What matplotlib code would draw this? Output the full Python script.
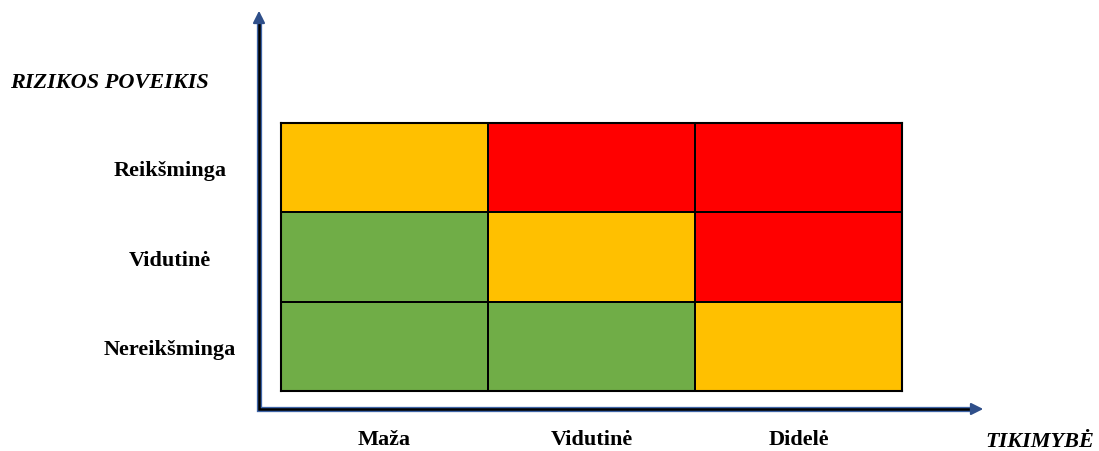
import matplotlib.pyplot as plt
from matplotlib.colors import ListedColormap
import numpy as np

# risk matrix data (rows bottom -> top)
likelihood = ["Maža", "Vidutinė", "Didelė"]
impact = ["Nereikšminga", "Vidutinė", "Reikšminga"]
levels = [
    [0, 0, 1],
    [0, 1, 2],
    [1, 2, 2],
]
level_colors = ["#70AD47", "#FFC000", "#FF0000"]

plt.rcParams['font.family'] = ['Liberation Serif', 'DejaVu Serif']

W, H = 1099, 452
fig = plt.figure(figsize=(W / 100, H / 100), dpi=100)

# grid area in pixels: left 281, right 902, top 124, bottom 392
ax = fig.add_axes([281 / W, (H - 392) / H, (902 - 281) / W, (392 - 124) / H])
ax.pcolormesh(np.array(levels), cmap=ListedColormap(level_colors), vmin=-0.5, vmax=2.5,
              edgecolors='black', linewidth=1.3)
ax.set_xlim(0, 3)
ax.set_ylim(0, 3)
for s in ax.spines.values():
    s.set_linewidth(1.5)
    s.set_color('black')

ax.set_xticks(np.arange(len(likelihood)) + 0.5, likelihood, fontsize=16, fontweight='bold')
ax.set_yticks(np.arange(len(impact)) + 0.5, impact, fontsize=16, fontweight='bold')
ax.tick_params(axis='x', length=0, pad=38.5)
ax.tick_params(axis='y', length=0, pad=80)
for lab in ax.get_xticklabels():
    lab.set_verticalalignment('baseline')
for lab in ax.get_yticklabels():
    lab.set_horizontalalignment('center')

# overlay for the axis arrows, in pixel coordinates (y downwards)
ov = fig.add_axes([0, 0, 1, 1], facecolor='none')
ov.set_xlim(0, W)
ov.set_ylim(H, 0)
ov.axis('off')

blue = '#3F65A8'
ov.plot([259, 259, 975], [18, 410, 410], color=blue, lw=3.8, solid_capstyle='butt',
        solid_joinstyle='miter')
ov.plot([259, 259, 975], [18, 410, 410], color='black', lw=1.8, solid_capstyle='butt',
        solid_joinstyle='miter')
ov.annotate('', xy=(259, 9), xytext=(259, 24),
            arrowprops=dict(arrowstyle='-|>', color='#2F4F8A', lw=1.5, mutation_scale=18))
ov.annotate('', xy=(986, 410), xytext=(970, 410),
            arrowprops=dict(arrowstyle='-|>', color='#2F4F8A', lw=1.5, mutation_scale=18))

fig.text(10 / W, (H - 88) / H, "RIZIKOS POVEIKIS", fontsize=16, fontweight='bold',
         fontstyle='italic', ha='left', va='baseline')
fig.text(985 / W, (H - 447) / H, "TIKIMYBĖ", fontsize=16, fontweight='bold',
         fontstyle='italic', ha='left', va='baseline')

fig.savefig('out.png', dpi=100)
